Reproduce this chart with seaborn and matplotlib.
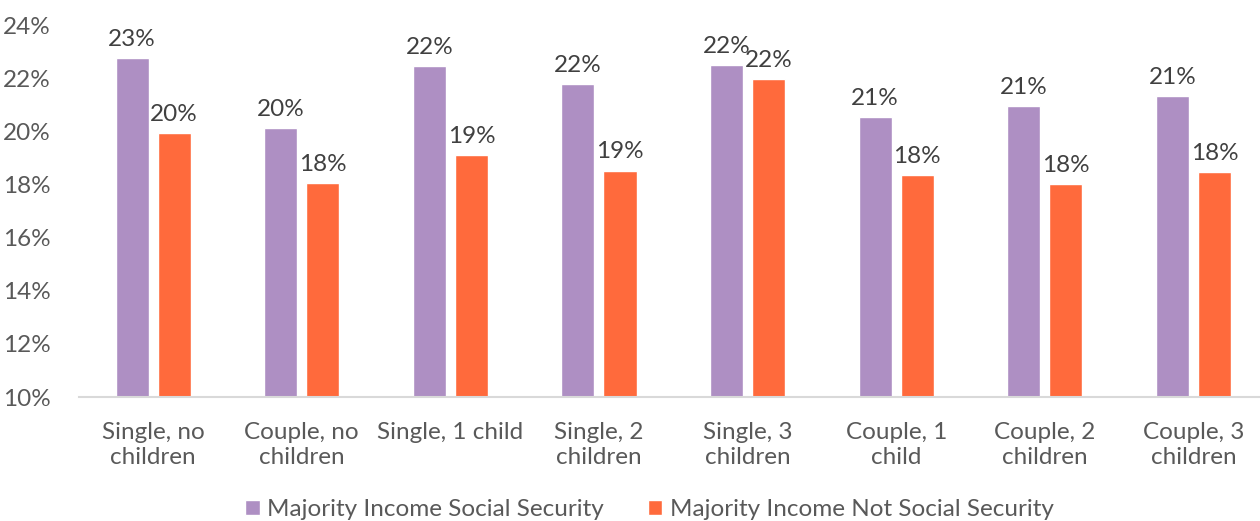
import pandas as pd
import matplotlib.pyplot as plt
import seaborn as sns

# data (percent)
categories = ["Single, no\nchildren", "Couple, no\nchildren", "Single, 1 child",
              "Single, 2\nchildren", "Single, 3\nchildren", "Couple, 1\nchild",
              "Couple, 2\nchildren", "Couple, 3\nchildren"]
series = ["Majority Income Social Security", "Majority Income Not Social Security"]
social_security = [22.76, 20.12, 22.46, 21.78, 22.48, 20.54, 20.95, 21.33]
not_social_security = [19.94, 18.05, 19.11, 18.52, 21.97, 18.36, 18.02, 18.47]
colors = ["#AE8FC3", "#FF6A3C"]

df = pd.DataFrame({
    "category": categories * 2,
    "series": [series[0]] * len(categories) + [series[1]] * len(categories),
    "value": social_security + not_social_security,
})

sns.set_style("white")
plt.rcParams["font.family"] = ["Lato", "DejaVu Sans"]
text_color = "#595959"
fs = 17.5

fig = plt.figure(figsize=(12.6, 5.21), dpi=100)
ax = fig.add_axes([0.0625, 0.238, 0.9437, 0.714])

sns.barplot(data=df, x="category", y="value", hue="series", palette=colors,
            width=0.566, gap=0.215, saturation=1, ax=ax)

for cont in ax.containers:
    ax.bar_label(cont, labels=[f"{v:.0f}%" for v in cont.datavalues],
                 padding=6, fontsize=fs, color="#404040")

ax.set_ylim(10, 24)
ax.set_yticks(range(10, 25, 2))
ax.set_yticklabels([f"{t}%" for t in range(10, 25, 2)])
ax.set_xlim(-0.5, len(categories) - 0.5)
ax.set_xlabel("")
ax.set_ylabel("")
ax.tick_params(axis="both", length=0, labelsize=fs, labelcolor=text_color)
ax.tick_params(axis="y", pad=20)
ax.tick_params(axis="x", pad=18)
for lbl in ax.get_xticklabels():
    lbl.set_linespacing(1.25)
for s in ["top", "right", "left"]:
    ax.spines[s].set_visible(False)
ax.spines["bottom"].set_color("#D9D9D9")
ax.spines["bottom"].set_linewidth(1.5)

ax.legend(loc="lower center", bbox_to_anchor=(0.5 - 0.02, -0.39), ncol=2,
          frameon=False, fontsize=fs, labelcolor=text_color,
          handlelength=0.6, handleheight=0.6, handletextpad=0.3, columnspacing=1.8)

fig.savefig("out.png", dpi=100)
